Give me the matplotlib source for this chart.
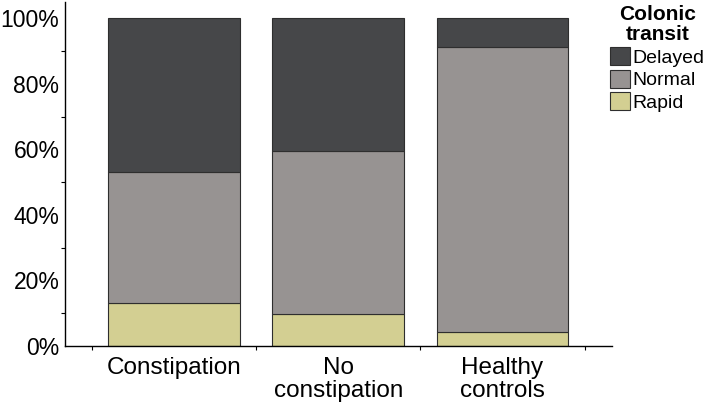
import matplotlib
matplotlib.use("Agg")
import matplotlib.pyplot as plt
from matplotlib.ticker import FixedLocator, PercentFormatter

plt.rcParams['font.family'] = ['Liberation Sans', 'DejaVu Sans']

# data (percent of each group)
groups = ["Constipation", "No\nconstipation", "Healthy\ncontrols"]
rapid = [13.1, 9.6, 4.3]
normal = [40.0, 49.9, 87.0]
delayed = [46.9, 40.5, 8.7]

col_rapid = "#d3cf92"
col_normal = "#979392"
col_delayed = "#464749"
edge = "#2e2e2e"

fig = plt.figure(figsize=(7.09, 4.05), dpi=100)
ax = fig.add_axes([0.0917, 0.1464, 0.863 - 0.0917, 0.995 - 0.1464])

x = list(range(len(groups)))
bottom2 = [r + n for r, n in zip(rapid, normal)]
ax.bar(x, rapid, width=0.8, color=col_rapid, edgecolor=edge, linewidth=0.8, label="Rapid")
ax.bar(x, normal, width=0.8, bottom=rapid, color=col_normal, edgecolor=edge, linewidth=0.8, label="Normal")
ax.bar(x, delayed, width=0.8, bottom=bottom2, color=col_delayed, edgecolor=edge, linewidth=0.8, label="Delayed")

ax.set_xlim(-0.663, 2.666)
ax.set_ylim(0, 105)

# y axis
ax.set_yticks([0, 20, 40, 60, 80, 100])
ax.yaxis.set_major_formatter(PercentFormatter(decimals=0))
ax.yaxis.set_minor_locator(FixedLocator([10, 30, 50, 70, 90]))
ax.tick_params(axis='y', which='major', length=0, pad=4, labelsize=16.5)
ax.tick_params(axis='y', which='minor', length=3, width=0.8, direction='out')

# x axis
ax.set_xticks(x)
ax.set_xticklabels(groups, linespacing=1.08)
ax.xaxis.set_minor_locator(FixedLocator([-0.5, 0.5, 1.5, 2.5]))
ax.tick_params(axis='x', which='major', length=0, pad=8, labelsize=17.5)
ax.tick_params(axis='x', which='minor', length=3, width=0.8, direction='out')

for s in ['top', 'right']:
    ax.spines[s].set_visible(False)
for s in ['left', 'bottom']:
    ax.spines[s].set_linewidth(1.0)

# legend
h, l = ax.get_legend_handles_labels()
leg = fig.legend(h[::-1], l[::-1], title="Colonic\ntransit", loc='upper right',
                 bbox_to_anchor=(1.0, 1.0), frameon=False, fontsize=14,
                 handlelength=1.0, handleheight=1.05, handletextpad=0.12,
                 labelspacing=0.15, borderpad=0.15, borderaxespad=0.1)
leg.get_title().set_fontweight('bold')
leg.get_title().set_fontsize(15)
leg.get_title().set_linespacing(1.08)
leg.get_title().set_multialignment('center')

fig.savefig("out.png", dpi=100)
